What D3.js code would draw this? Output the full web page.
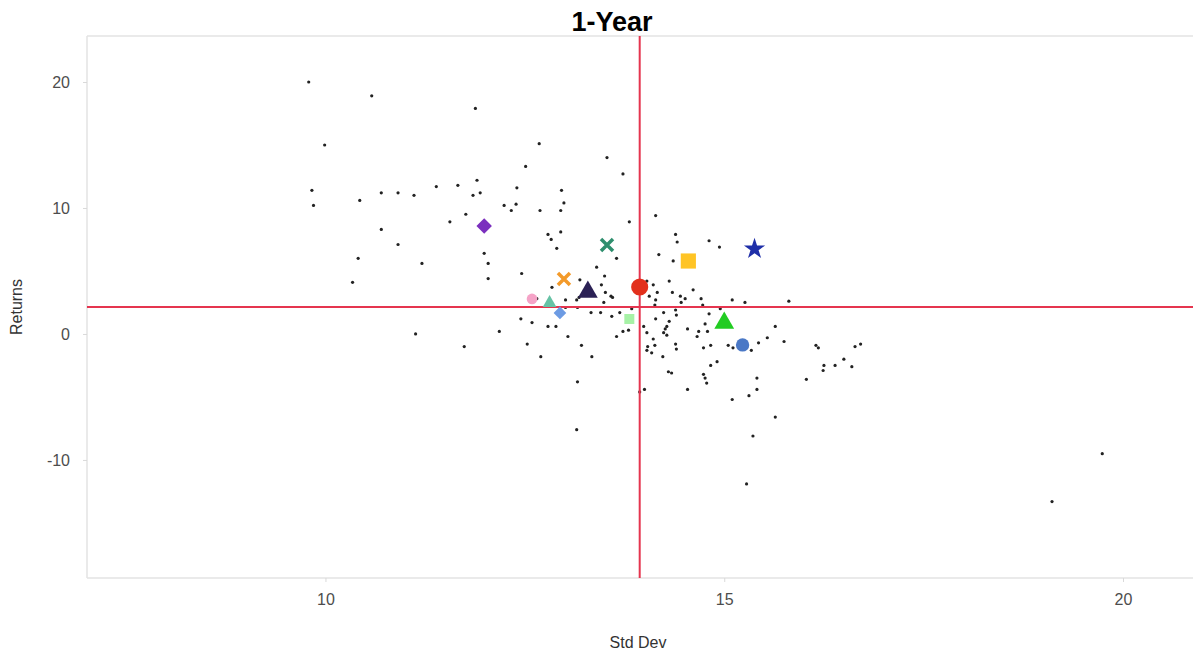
<!DOCTYPE html>
<html><head><meta charset="utf-8">
<script src="https://cdn.jsdelivr.net/npm/d3@7/dist/d3.min.js"></script>
<style>
body{margin:0;background:#fff;}
svg{display:block;font-family:"Liberation Sans",Arial,Helvetica,sans-serif;}
</style>
</head><body>
<svg id="chart" width="1193" height="650"></svg>
<script>
// ---- data ----
const chartTitle = "1-Year";
const xLabel = "Std Dev";
const yLabel = "Returns";
const xTicks = [10, 15, 20];
const yTicks = [-10, 0, 10, 20];

// universe of funds (small dots)
const stdDev = [9.79,10.58,9.99,9.83,9.85,10.43,10.70,10.91,11.11,11.39,11.66,11.90,11.94,11.85,11.88,12.68,12.51,12.40,12.39,12.24,12.33,12.69,11.76,11.56,10.70,10.91,11.99,12.79,10.41,12.96,12.99,12.95,13.53,13.73,13.81,14.14,12.83,12.95,12.90,14.39,14.41,14.81,14.94,12.04,12.04,11.21,13.65,14.18,14.36,12.46,13.40,13.50,10.34,12.84,13.19,13.46,13.51,13.58,13.60,13.49,13.18,13.15,14.03,14.31,14.11,14.16,14.06,14.35,14.45,14.61,14.51,14.46,14.71,14.73,15.10,15.26,15.81,14.14,14.13,14.95,14.81,13.01,13.01,12.65,13.16,13.33,13.45,13.59,13.69,13.84,13.99,14.03,14.14,14.24,14.39,14.40,14.31,14.28,14.26,14.24,14.28,14.11,14.13,14.39,14.40,14.04,14.03,14.09,14.23,14.54,14.68,14.66,14.76,14.79,13.73,13.80,13.65,13.34,14.74,14.83,15.05,15.11,14.30,14.34,14.83,14.91,14.74,14.76,14.78,14.54,13.94,14.00,15.10,15.64,15.54,15.75,15.43,15.34,16.15,16.18,16.64,16.71,16.50,16.39,16.60,16.25,16.24,16.03,15.41,15.41,15.31,15.64,15.36,15.28,19.74,19.11,13.15,13.16,13.21,13.04,12.79,12.89,12.59,12.45,12.53,12.70,12.18,11.74,11.13];
const returns = [20.0,18.9,15.0,11.4,10.2,10.6,11.2,11.2,11.0,11.7,11.8,12.2,11.2,11.0,17.9,15.1,13.3,11.6,10.3,10.2,9.8,9.8,9.5,8.9,8.3,7.1,6.4,7.9,6.0,11.4,10.4,9.8,14.0,12.7,8.9,9.4,7.5,8.1,6.8,7.9,7.3,7.4,6.9,5.6,4.4,5.6,6.0,6.3,5.8,4.8,5.3,4.6,4.1,3.7,4.3,3.9,3.3,3.0,2.9,2.5,2.9,2.7,4.2,4.2,3.9,3.3,3.0,3.3,3.0,3.5,2.8,2.5,2.8,2.3,2.7,2.5,2.6,2.7,2.3,2.0,1.6,2.7,2.1,2.8,2.1,1.7,1.7,1.4,1.7,2.0,0.6,0.1,1.2,1.7,1.9,1.5,1.0,0.6,0.4,0.1,-0.1,-0.4,-0.9,-0.8,-1.2,-1.0,-1.3,-1.5,-1.8,0.4,0.2,-0.2,0.8,0.2,0.2,0.3,-0.2,-1.8,-1.1,-0.9,-0.9,-1.1,-3.0,-3.1,-2.5,-2.2,-3.2,-3.5,-3.9,-4.4,-4.6,-4.4,-5.2,0.6,-0.3,-0.6,-0.7,-1.3,-0.9,-1.1,-1.0,-0.8,-2.0,-2.5,-2.6,-2.5,-2.9,-3.6,-3.5,-4.4,-4.9,-6.6,-8.1,-11.9,-9.5,-13.3,-7.6,-3.8,-0.9,-0.2,0.6,0.6,0.9,1.2,-0.8,-1.8,0.2,-1.0,0.0];

// highlighted funds
const hlStdDev  = [11.99, 13.53, 15.38, 14.55, 12.99, 13.29, 13.94, 12.59, 12.81, 12.94, 13.81, 15.00, 15.23];
const hlReturns = [8.57, 7.06, 6.75, 5.79, 4.37, 3.33, 3.73, 2.78, 2.46, 1.67, 1.19, 0.87, -0.87];

// averages (reference lines)
const meanStdDev = 13.94;
const meanReturn = 2.14;

// ---- styles (kept separate from data) ----
const hlStyles = [
  {shape:"diamond",  color:"#7b2fbe", size:120},
  {shape:"x",        color:"#2f8f6e", size:12},
  {shape:"star",     color:"#1f2fa8", size:140},
  {shape:"square",   color:"#ffc425", size:230},
  {shape:"x",        color:"#f39a2a", size:12},
  {shape:"triangle", color:"#2b2155", size:170},
  {shape:"circle",   color:"#e2301c", size:230},
  {shape:"circle",   color:"#f5a3c7", size:90},
  {shape:"triangle", color:"#66c2a5", size:80},
  {shape:"diamond",  color:"#6d9be3", size:80},
  {shape:"square",   color:"#a6f2a6", size:100},
  {shape:"triangle", color:"#22cc22", size:170},
  {shape:"circle",   color:"#4a78c6", size:140}
];

// ---- layout ----
const W = 1193, H = 650;
const m = {left: 87, top: 36, right: 3, bottom: 72};
const svg = d3.select("#chart");

const x = d3.scaleLinear().domain([7.01, 20.84]).range([m.left, W - m.right]);
const y = d3.scaleLinear().domain([-19.37, 23.65]).range([H - m.bottom, m.top]);
const fmt = d => String(d);   // plain hyphen-minus like the reference

// panel border
const pb = svg.append("g");
pb.append("line").attr("x1", m.left).attr("x2", W).attr("y1", m.top).attr("y2", m.top)
  .attr("stroke", "#e3e3e3").attr("stroke-width", 1.5);
pb.append("line").attr("x1", m.left).attr("x2", m.left).attr("y1", m.top).attr("y2", H - m.bottom)
  .attr("stroke", "#e3e3e3").attr("stroke-width", 1.5);
pb.append("line").attr("x1", m.left).attr("x2", W).attr("y1", H - m.bottom).attr("y2", H - m.bottom)
  .attr("stroke", "#e3e3e3").attr("stroke-width", 1.5);

// axes
const xAxis = svg.append("g").attr("transform", `translate(0,${H - m.bottom})`)
  .call(d3.axisBottom(x).tickValues(xTicks).tickFormat(fmt).tickSize(4).tickPadding(12));
const yAxis = svg.append("g").attr("transform", `translate(${m.left},0)`)
  .call(d3.axisLeft(y).tickValues(yTicks).tickFormat(fmt).tickSize(4).tickPadding(13));
[xAxis, yAxis].forEach(a => {
  a.select(".domain").remove();
  a.selectAll(".tick line").attr("stroke", "#d9d9d9");
  a.selectAll(".tick text").attr("fill", "#4d4d4d").style("font-size", "16px")
    .style("font-family", '"Liberation Sans", Arial, sans-serif');
});

// small dots
svg.append("g").selectAll("circle").data(stdDev.map((d, i) => [d, returns[i]])).join("circle")
  .attr("cx", d => x(d[0])).attr("cy", d => y(d[1])).attr("r", 1.6).attr("fill", "#222");

// reference lines
svg.append("line").attr("x1", x(meanStdDev)).attr("x2", x(meanStdDev))
  .attr("y1", m.top).attr("y2", H - m.bottom).attr("stroke", "#e5354f").attr("stroke-width", 2);
svg.append("line").attr("x1", m.left).attr("x2", W)
  .attr("y1", y(meanReturn)).attr("y2", y(meanReturn)).attr("stroke", "#e5354f").attr("stroke-width", 2);

// highlighted markers
const symMap = {diamond: d3.symbolSquare, square: d3.symbolSquare, star: d3.symbolStar,
                triangle: d3.symbolTriangle, circle: d3.symbolCircle};
const hg = svg.append("g");
hlStdDev.forEach((sx, i) => {
  const st = hlStyles[i];
  const cx = x(sx), cy = y(hlReturns[i]);
  if (st.shape === "x") {
    const s = st.size / 2;
    hg.append("path").attr("d", `M${cx - s},${cy - s}L${cx + s},${cy + s}M${cx - s},${cy + s}L${cx + s},${cy - s}`)
      .attr("stroke", st.color).attr("stroke-width", 3.5).attr("fill", "none");
  } else {
    const rot = st.shape === "diamond" ? 45 : 0;
    hg.append("path").attr("d", d3.symbol().type(symMap[st.shape]).size(st.size)())
      .attr("transform", `translate(${cx},${cy}) rotate(${rot})`)
      .attr("fill", st.color);
  }
});

// titles
svg.append("text").attr("x", 612).attr("y", 31).attr("text-anchor", "middle")
  .style("font-size", "27px").style("font-weight", "bold").attr("fill", "#000").text(chartTitle);
svg.append("text").attr("x", 638).attr("y", 648).attr("text-anchor", "middle")
  .style("font-size", "16px").attr("fill", "#333").text(xLabel);
svg.append("text").attr("transform", `translate(22,${(m.top + H - m.bottom) / 2}) rotate(-90)`)
  .attr("text-anchor", "middle").style("font-size", "16px").attr("fill", "#333").text(yLabel);
</script>
</body></html>
